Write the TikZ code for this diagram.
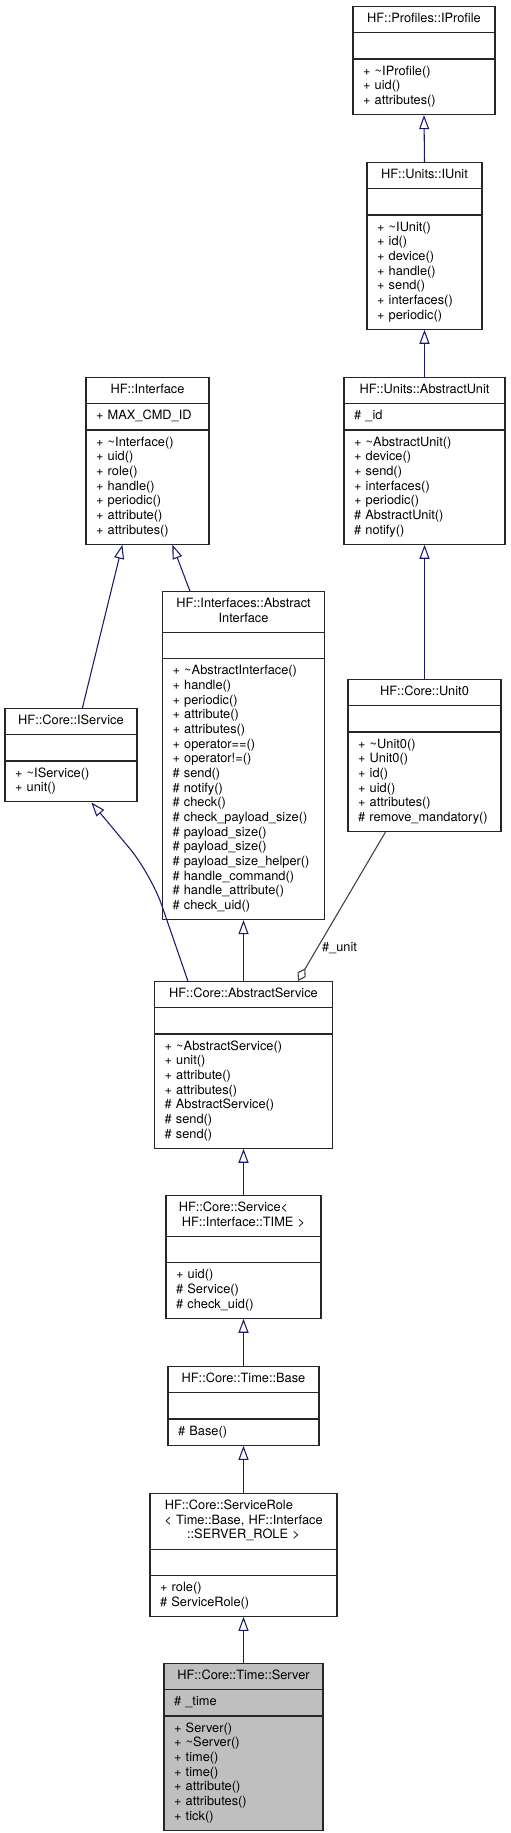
\documentclass[tikz,border=0pt]{standalone}
\usepackage{fontspec}
\setmainfont{TeX Gyre Heros}
\usetikzlibrary{positioning, calc, arrows.meta, shapes.multipart}
\definecolor{edgeblue}{RGB}{25,25,112}
\definecolor{edgegray}{RGB}{64,64,64}
\definecolor{selfgray}{RGB}{191,191,191}
\tikzset{
    classbox/.style={draw=black!85, line width=0.9pt, fill=white, rectangle split, rectangle split parts=3,
        anchor=north, inner xsep=7.5pt, inner ysep=3.875pt, align=left, font=\fontsize{9.6pt}{11pt}\selectfont},
    inherit/.style={draw=edgeblue, line width=0.8pt, -{Triangle[open, length=10.5pt, width=7.5pt]}},
    aggr/.style={draw=edgegray, line width=0.8pt, -{Diamond[open, length=11pt, width=7pt]}}
}
\newcommand{\m}[1]{\strut\mbox{#1}\par}

\begin{document}
\begin{tikzpicture}[x=0.75pt, y=-0.75pt]
    \useasboundingbox (0,0) rectangle (510,1833);
    % right column
    \node[classbox, text width=91.5pt] (iprofile) at (424,6) {\centering\m{HF::Profiles::IProfile}
        \nodepart{two}\strut
        \nodepart{three}\m{+ \textasciitilde IProfile()}\m{+ uid()}\m{+ attributes()}};
    \node[classbox, text width=71.25pt] (iunit) at (424.5,162) {\centering\m{HF::Units::IUnit}
        \nodepart{two}\strut
        \nodepart{three}\m{+ \textasciitilde IUnit()}\m{+ id()}\m{+ device()}\m{+ handle()}\m{+ send()}\m{+ interfaces()}\m{+ periodic()}};
    \node[classbox, text width=105.75pt] (abstractunit) at (424.5,377) {\centering\m{HF::Units::AbstractUnit}
        \nodepart{two}\m{\# \_id}
        \nodepart{three}\m{+ \textasciitilde AbstractUnit()}\m{+ device()}\m{+ send()}\m{+ interfaces()}\m{+ periodic()}\m{\# AbstractUnit()}\m{\# notify()}};
    \node[classbox, text width=99.75pt] (unit0) at (424.5,679) {\centering\m{HF::Core::Unit0}
        \nodepart{two}\strut
        \nodepart{three}\m{+ \textasciitilde Unit0()}\m{+ Unit0()}\m{+ id()}\m{+ uid()}\m{+ attributes()}\m{\# remove\_mandatory()}};
    % left column
    \node[classbox, text width=77.25pt] (interface) at (147.5,377) {\centering\m{HF::Interface}
        \nodepart{two}\m{+ MAX\_CMD\_ID}
        \nodepart{three}\m{+ \textasciitilde Interface()}\m{+ uid()}\m{+ role()}\m{+ handle()}\m{+ periodic()}\m{+ attribute()}\m{+ attributes()}};
    \node[classbox, text width=84pt] (iservice) at (71,708) {\centering\m{HF::Core::IService}
        \nodepart{two}\strut
        \nodepart{three}\m{+ \textasciitilde IService()}\m{+ unit()}};
    \node[classbox, text width=106.5pt] (abstractinterface) at (243.5,591) {\centering\m{HF::Interfaces::Abstract}\m{Interface}
        \nodepart{two}\strut
        \nodepart{three}\m{+ \textasciitilde AbstractInterface()}\m{+ handle()}\m{+ periodic()}\m{+ attribute()}\m{+ attributes()}\m{+ operator==()}\m{+ operator!=()}\m{\# send()}\m{\# notify()}\m{\# check()}\m{\# check\_payload\_size()}\m{\# payload\_size()}\m{\# payload\_size()}\m{\# payload\_size\_helper()}\m{\# handle\_command()}\m{\# handle\_attribute()}\m{\# check\_uid()}};
    % main chain
    \node[classbox, text width=118.5pt] (abstractservice) at (243.5,981) {\centering\m{HF::Core::AbstractService}
        \nodepart{two}\strut
        \nodepart{three}\m{+ \textasciitilde AbstractService()}\m{+ unit()}\m{+ attribute()}\m{+ attributes()}\m{\# AbstractService()}\m{\# send()}\m{\# send()}};
    \node[classbox, text width=101.25pt] (service) at (243.5,1195) {\centering\m{HF::Core::Service<\hspace*{15pt}}\m{HF::Interface::TIME >}
        \nodepart{two}\strut
        \nodepart{three}\m{+ uid()}\m{\# Service()}\m{\# check\_uid()}};
    \node[classbox, text width=98.25pt] (timebase) at (243.5,1366) {\centering\m{HF::Core::Time::Base}
        \nodepart{two}\strut
        \nodepart{three}\m{\# Base()}};
    \node[classbox, text width=125.25pt] (servicerole) at (243.5,1493) {\centering\m{HF::Core::ServiceRole\hspace*{22pt}}\m{< Time::Base, HF::Interface}\m{::SERVER\_ROLE >}
        \nodepart{two}\strut
        \nodepart{three}\m{+ role()}\m{\# ServiceRole()}};
    \node[classbox, fill=selfgray, text width=104.25pt] (server) at (243.5,1663) {\centering\m{HF::Core::Time::Server}
        \nodepart{two}\m{\# \_time}
        \nodepart{three}\m{+ Server()}\m{+ \textasciitilde Server()}\m{+ time()}\m{+ time()}\m{+ attribute()}\m{+ attributes()}\m{+ tick()}};
    % connectors
    \draw[inherit] (iunit.north) -- (iprofile.south);
    \draw[inherit] (abstractunit.north) -- (iunit.south);
    \draw[inherit] (unit0.north) -- (abstractunit.south);
    \draw[inherit] ($(iservice.north west)+(78,0)$) -- ($(interface.south west)+(37,0)$);
    \draw[inherit] ($(abstractinterface.north west)+(28,0)$) -- ($(interface.south west)+(87,0)$);
    \draw[inherit, rounded corners=25pt] ($(abstractservice.north west)+(34,0)$) -- (151,874) -- ($(iservice.south west)+(87,0)$);
    \draw[inherit] (abstractservice.north) -- (abstractinterface.south);
    \draw[aggr] ($(unit0.south west)+(38,0)$) -- node[pos=0.78, anchor=west, font=\fontsize{9.6pt}{11pt}\selectfont] (unitlabel) {\#\_unit} ($(abstractservice.north west)+(144,0)$);
    \draw[inherit] (service.north) -- (abstractservice.south);
    \draw[inherit] (timebase.north) -- (service.south);
    \draw[inherit] (servicerole.north) -- (timebase.south);
    \draw[inherit] (server.north) -- (servicerole.south);
\end{tikzpicture}
\end{document}
